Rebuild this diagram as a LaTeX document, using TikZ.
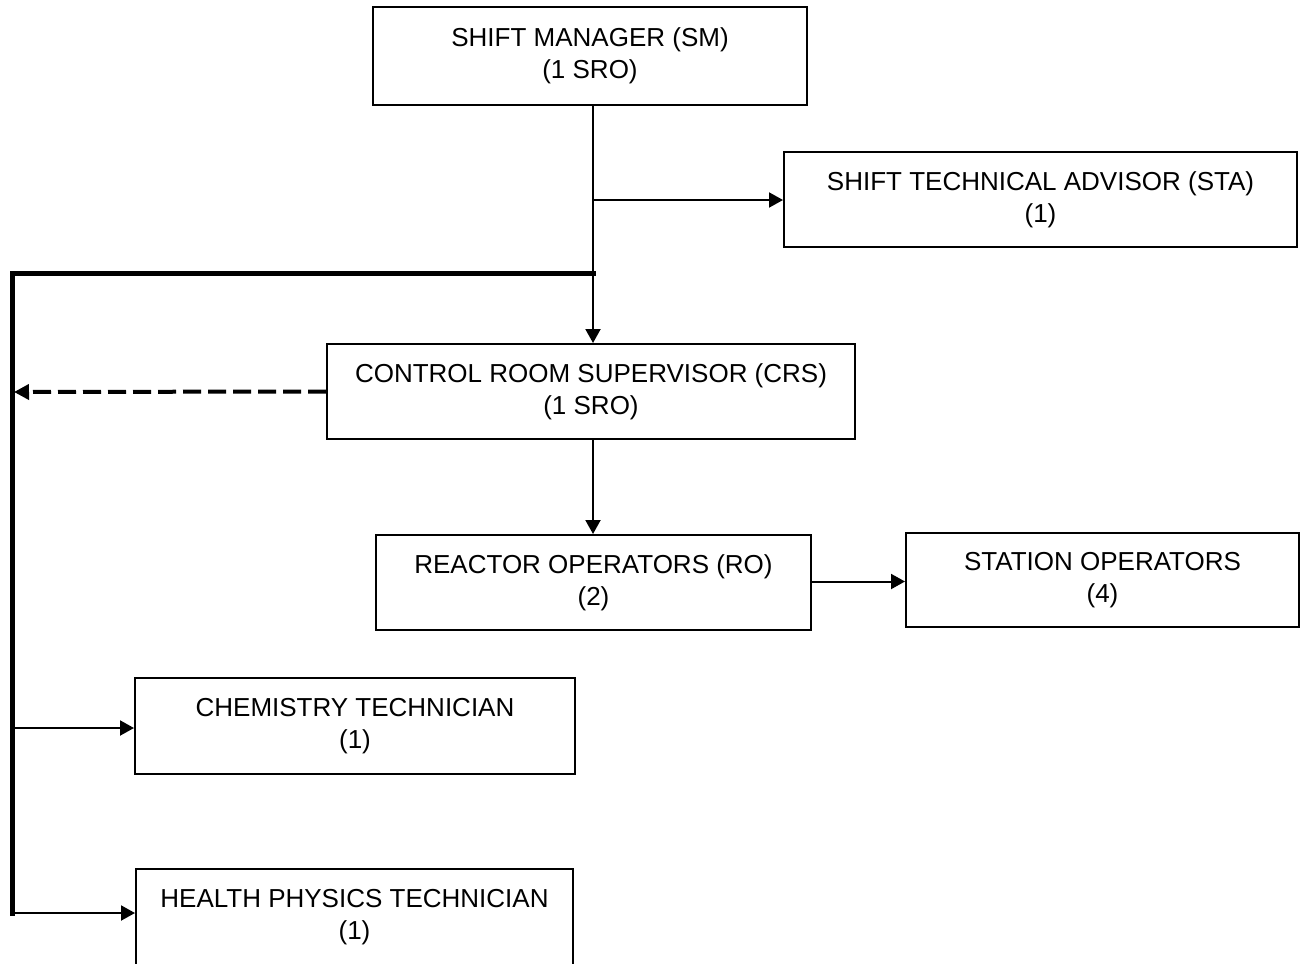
\documentclass[tikz,border=0pt]{standalone}
\usepackage{fontspec}
\setmainfont{Liberation Sans}
\usetikzlibrary{arrows.meta,calc}

\tikzset{
  orgbox/.style={draw, line width=1pt, rectangle, inner sep=0pt, align=center,
    font=\fontsize{13}{16}\selectfont},
  link/.style={line width=1pt, -{Triangle[length=7pt,width=7.5pt]}},
  trunk/.style={line width=2.5pt, line cap=rect},
  dotlink/.style={line width=2pt, dash pattern=on 9pt off 3.5pt,
    -{Triangle[length=7.5pt,width=7.5pt]}}
}

\begin{document}
\begin{tikzpicture}[x=0.5pt, y=-0.5pt]
  \useasboundingbox (0,0) rectangle (1300,963);
  \clip (0,0) rectangle (1300,963);

  % boxes of the shift organisation
  \node[orgbox, minimum width=217pt, minimum height=49pt] (sm) at (590,56)
    {SHIFT MANAGER (SM)\\(1 SRO)};
  \node[orgbox, minimum width=256.5pt, minimum height=47.5pt] (sta) at (1040.5,199.5)
    {SHIFT TECHNICAL ADVISOR (STA)\\(1)};
  \node[orgbox, minimum width=264pt, minimum height=47.5pt] (crs) at (591,391.5)
    {CONTROL ROOM SUPERVISOR (CRS)\\(1 SRO)};
  \node[orgbox, minimum width=217.5pt, minimum height=47.5pt] (ro) at (593.5,582.5)
    {REACTOR OPERATORS (RO)\\(2)};
  \node[orgbox, minimum width=196.5pt, minimum height=47pt] (so) at (1102.5,580)
    {STATION OPERATORS\\(4)};
  \node[orgbox, minimum width=220pt, minimum height=48pt] (chem) at (355,726)
    {CHEMISTRY TECHNICIAN\\(1)};
  \node[orgbox, minimum width=218.5pt, minimum height=48pt] (hp) at (354.5,917)
    {HEALTH PHYSICS TECHNICIAN\\(1)};

  % junction points on the lines
  \coordinate (toSta) at (593,200);
  \coordinate (toSide) at (593,273);
  \coordinate (corner) at (12,273);
  \coordinate (toChem) at (12,728);
  \coordinate (foot) at (12,913);
  \coordinate (dashEnd) at (14,392);

  % main chain
  \draw[link] (sm.south -| toSta) -- (crs.north -| toSta);
  \draw[link] (toSta) -- (toSta -| sta.west);
  \draw[link] (crs.south -| toSta) -- (ro.north -| toSta);
  \draw[link] ([yshift=0.5pt]ro.east) -- ([yshift=0.5pt]ro.east -| so.west);

  % side line to the technicians
  \draw[trunk] (toSide) -- (corner) -- (foot);
  \draw[link] (toChem) -- (toChem -| chem.west);
  \draw[link] (foot) -- (foot -| hp.west);

  % dashed line from the supervisor
  \draw[dotlink] (crs.west) -- (dashEnd);
\end{tikzpicture}
\end{document}
